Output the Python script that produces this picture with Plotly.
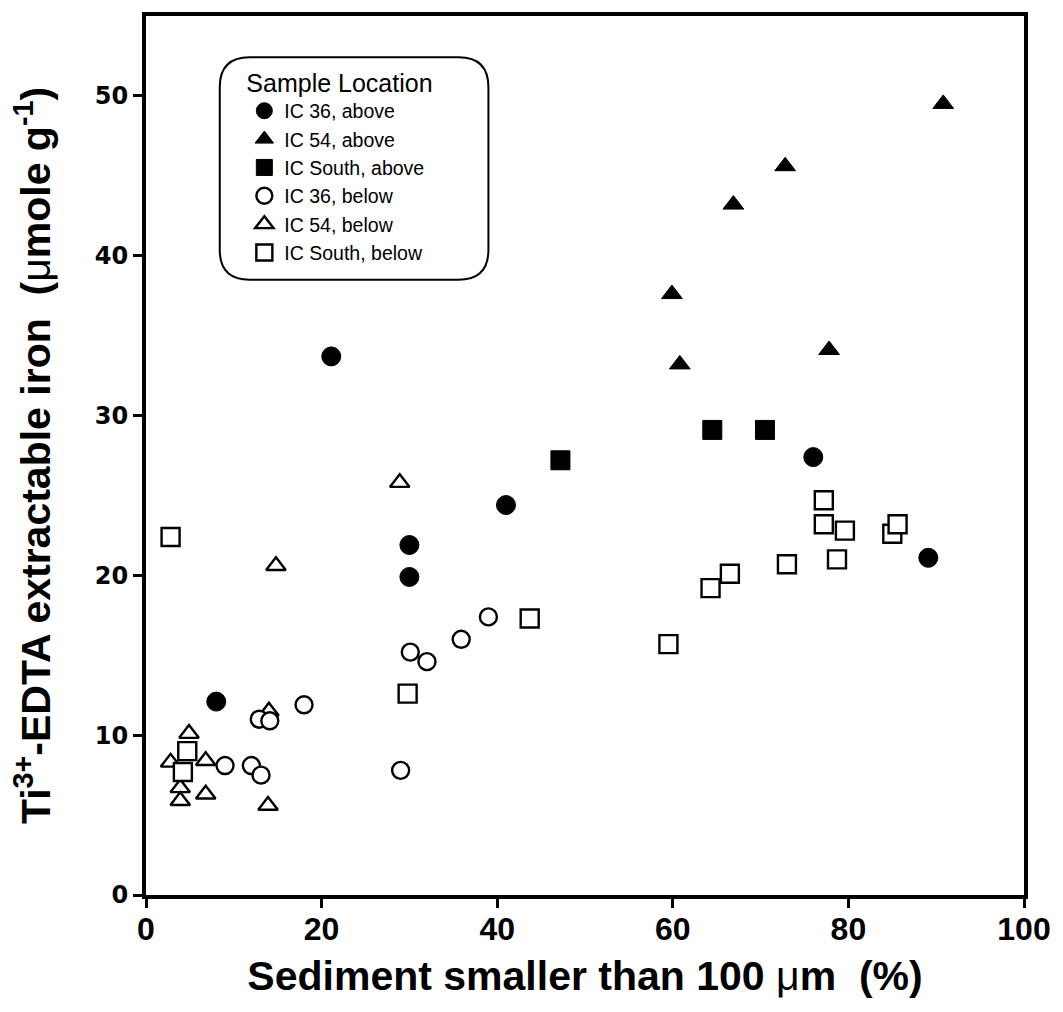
import plotly.graph_objects as go

# ---- data ----
ic36_above_x = [21.1, 41.0, 30.0, 30.0, 8.0, 76.0, 89.1]
ic36_above_y = [33.7, 24.4, 21.9, 19.9, 12.1, 27.4, 21.1]

ic54_above_x = [90.8, 72.8, 66.9, 59.9, 60.8, 77.8]
ic54_above_y = [49.5, 45.6, 43.2, 37.6, 33.2, 34.1]

icS_above_x = [47.2, 64.5, 70.5]
icS_above_y = [27.2, 29.1, 29.1]

ic36_below_x = [39.0, 35.9, 30.1, 32.0, 18.0, 12.9, 14.1, 9.0, 12.0, 13.1, 29.0]
ic36_below_y = [17.4, 16.0, 15.2, 14.6, 11.9, 11.0, 10.9, 8.1, 8.1, 7.5, 7.8]

ic54_below_x = [28.9, 14.8, 14.0, 4.9, 2.8, 6.8, 3.9, 3.9, 6.8, 13.9]
ic54_below_y = [25.8, 20.6, 11.5, 10.1, 8.3, 8.4, 6.7, 5.9, 6.3, 5.6]

icS_below_x = [2.8, 4.7, 4.2, 29.8, 43.7, 59.5, 64.3, 66.5, 73.0, 77.2, 77.2, 78.7, 79.6, 85.0, 85.6]
icS_below_y = [22.4, 9.0, 7.7, 12.6, 17.3, 15.7, 19.2, 20.1, 20.7, 24.7, 23.2, 21.0, 22.8, 22.6, 23.2]

x_ticks = [0, 20, 40, 60, 80, 100]
y_ticks = [0, 10, 20, 30, 40, 50]

FONT = "Liberation Sans"

fig = go.Figure()

def add(name, xs, ys, symbol, filled, size, rank):
    if filled:
        marker = dict(symbol=symbol, size=size, color="black",
                      line=dict(color="black", width=1))
    else:
        marker = dict(symbol=symbol, size=size, color="white",
                      line=dict(color="black", width=2.4))
    fig.add_trace(go.Scatter(x=xs, y=ys, mode="markers", name=name,
                             marker=marker, legendrank=rank))

add("IC 36, above", ic36_above_x, ic36_above_y, "circle", True, 19, 1)
add("IC 54, above", ic54_above_x, ic54_above_y, "triangle-up", True, 18, 2)
add("IC South, above", icS_above_x, icS_above_y, "square", True, 19, 3)
add("IC 54, below", ic54_below_x, ic54_below_y, "triangle-up", False, 17, 5)
add("IC 36, below", ic36_below_x, ic36_below_y, "circle", False, 17, 4)
add("IC South, below", icS_below_x, icS_below_y, "square", False, 18, 6)

# rounded legend box (paper coordinates)
x0, x1, y0, y1 = 0.084, 0.390, 0.700, 0.953
rx, ry = 0.034, 0.034
path = (f"M {x0+rx},{y1} L {x1-rx},{y1} Q {x1},{y1} {x1},{y1-ry} "
        f"L {x1},{y0+ry} Q {x1},{y0} {x1-rx},{y0} "
        f"L {x0+rx},{y0} Q {x0},{y0} {x0},{y0+ry} "
        f"L {x0},{y1-ry} Q {x0},{y1} {x0+rx},{y1} Z")
fig.add_shape(type="path", path=path, xref="paper", yref="paper",
              line=dict(color="black", width=2), fillcolor="rgba(0,0,0,0)",
              layer="below")

axis_common = dict(
    showgrid=False, zeroline=False, showline=True, linecolor="black",
    linewidth=4, mirror=True, ticks="outside", ticklen=9, tickwidth=3,
    tickcolor="black",
)

fig.update_layout(
    width=1063, height=1012,
    margin=dict(l=146, r=34, t=14, b=117),
    paper_bgcolor="white", plot_bgcolor="white",
    showlegend=True,
    legend=dict(
        x=0.112, y=0.951, xanchor="left", yanchor="top",
        bgcolor="rgba(0,0,0,0)", borderwidth=0,
        font=dict(family=FONT, size=19.5, color="black"),
        title=dict(text="Sample Location",
                   font=dict(family=FONT, size=25, color="black")),
        itemclick=False, itemdoubleclick=False,
    ),
    xaxis=dict(
        range=[0, 100], tickvals=x_ticks, ticktext=[str(v) for v in x_ticks],
        tickfont=dict(family="Liberation Sans Narrow, Liberation Sans", size=32,
                      color="black", weight="bold"),
        ticklabelstandoff=-6,
        title=dict(text="Sediment smaller than 100 <span style='font-weight:normal'>μ</span>m \u00a0(%)",
                   font=dict(family=FONT, size=41, color="black", weight="bold"),
                   standoff=16),
        **axis_common,
    ),
    yaxis=dict(
        range=[0, 55], tickvals=y_ticks, ticktext=[str(v) for v in y_ticks],
        tickfont=dict(family="DejaVu Sans", size=24, color="black", weight="bold"),
        title=dict(text="Ti<sup>3+</sup>-EDTA extractable iron \u00a0(<span style='font-weight:normal'>μ</span>mole g<sup>-1</sup>)",
                   font=dict(family=FONT, size=41, color="black", weight="bold"),
                   standoff=32),
        **axis_common,
    ),
)

fig.write_html("out.html", config={"displayModeBar": False},
               post_script="document.body.style.margin='0px';")
